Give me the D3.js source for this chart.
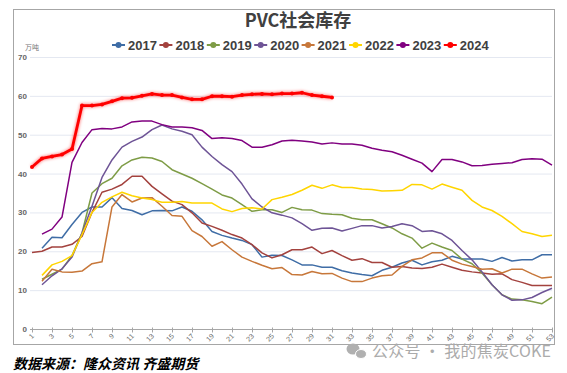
<!DOCTYPE html>
<html><head><meta charset="utf-8">
<script src="https://cdn.jsdelivr.net/npm/d3@7/dist/d3.min.js"></script>
<style>body{margin:0;background:#fff;}svg{display:block;}</style>
</head><body><svg id="c" width="567" height="373"></svg>
<script>
const weeks = d3.range(1, 54);
const years = ["2017","2018","2019","2020","2021","2022","2023","2024"];
const colors = ["#3F6DA6","#A3423E","#7E9C46","#6E5496","#C7773A","#FFD500","#800080","#FF0000"];
const s2017 = [null,20.8,23.6,23.5,26.9,30.0,31.4,31.4,33.8,31.0,30.5,29.4,30.4,30.5,30.4,31.4,30.3,28.1,25.1,24.1,23.4,22.8,21.7,18.5,19.0,18.9,17.8,16.5,16.5,15.9,15.9,15.0,14.4,14.0,13.7,15.1,15.9,17.0,17.7,16.5,17.3,17.7,18.7,18.0,18.0,18.0,17.4,18.4,17.5,17.8,17.8,19.1,19.1];
const s2018 = [19.7,20.0,21.1,21.1,21.8,23.8,30.0,35.2,36.0,37.2,39.3,39.3,36.7,34.8,32.9,32.0,29.9,27.3,26.4,25.4,24.3,23.4,21.7,19.6,18.3,19.1,20.4,20.4,21.1,19.4,20.2,18.9,17.7,18.1,17.1,17.1,15.9,16.1,15.7,15.6,15.9,16.7,15.9,15.1,14.7,14.4,14.1,14.2,12.7,12.0,11.2,11.2,11.2];
const s2019 = [null,12.8,14.1,15.4,18.9,24.7,35.0,37.4,38.8,42.0,43.5,44.2,44.0,43.1,41.0,39.9,38.8,37.4,36.0,34.5,33.7,32.0,30.3,30.7,30.7,30.0,31.3,30.7,30.6,29.7,29.5,29.4,28.5,28.1,28.1,27.1,26.0,24.5,23.4,20.8,22.1,21.1,20.2,18.0,16.8,14.4,11.4,8.8,7.7,7.5,7.1,6.5,8.2];
const s2020 = [null,11.4,13.7,15.5,18.5,24.7,31.6,39.0,43.5,46.8,48.3,49.4,51.3,52.5,51.5,50.9,50.0,46.8,44.4,42.3,40.5,37.3,33.5,31.4,29.9,29.3,28.6,27.1,25.4,25.9,26.0,25.2,25.9,26.6,26.6,26.0,26.4,27.1,26.6,25.1,25.3,24.5,22.8,20.2,17.8,14.7,11.4,8.8,7.4,7.5,8.1,9.4,10.5];
const s2021 = [null,12.3,15.4,14.7,14.6,14.9,16.8,17.3,31.4,34.6,32.7,33.7,33.8,31.6,29.2,29.0,25.3,23.8,21.3,22.5,20.4,18.5,17.4,16.4,15.5,15.8,14.0,13.9,14.8,14.2,14.3,13.1,12.2,12.2,13.1,13.7,13.9,16.1,17.8,18.3,19.6,19.6,17.7,16.7,16.1,15.4,15.5,14.4,15.4,15.4,14.2,13.1,13.4];
const s2022 = [null,13.8,16.5,17.4,18.9,24.3,30.0,32.6,34.0,35.2,34.3,33.7,33.3,32.6,32.6,32.8,32.4,32.4,32.4,30.9,30.2,31.0,31.2,30.9,33.3,33.9,34.6,35.7,37.0,36.2,37.1,36.4,36.4,36.0,35.9,35.5,35.6,35.7,37.2,37.1,36.0,37.3,36.5,35.7,33.1,31.4,30.5,29.0,27.1,25.1,24.5,23.8,24.1];
const s2023 = [null,24.4,25.7,28.8,42.9,48.0,51.3,51.6,51.5,52.0,53.3,53.5,53.5,52.6,52.0,52.0,51.8,51.1,49.0,49.2,49.0,48.5,46.8,46.8,47.4,48.4,48.6,48.4,48.1,47.6,47.9,47.6,47.6,47.3,46.5,46.0,45.6,44.7,43.7,42.7,40.5,43.6,43.6,43.0,42.0,42.1,42.4,42.6,42.8,43.6,43.8,43.7,42.2];
const s2024 = [41.7,43.9,44.4,44.9,46.3,57.5,57.5,57.8,58.6,59.4,59.5,60.0,60.5,60.2,60.2,59.6,59.1,59.1,59.9,59.9,59.8,60.2,60.4,60.5,60.4,60.6,60.6,60.8,60.2,59.9,59.6];
const yTicks = [0,10,20,30,40,50,60,70];
const xLabels = weeks.filter(w => w % 2 === 1);
const title = "PVC社会库存";
const unit = "万吨";
const source = "数据来源：隆众资讯 齐盛期货";
const watermark = "公众号 · 我的焦炭COKE";

const series = [s2017,s2018,s2019,s2020,s2021,s2022,s2023,s2024];
const svg = d3.select("#c");
const defs = svg.append("defs");
const f = defs.append("filter").attr("id","glow").attr("x","-10%").attr("y","-50%").attr("width","120%").attr("height","200%");
f.append("feGaussianBlur").attr("stdDeviation",1.8);

// frame
svg.append("rect").attr("x",13.5).attr("y",9.5).attr("width",541).attr("height",335)
  .attr("fill","none").attr("stroke","#A6A6A6").attr("stroke-width",1);

const x = d3.scaleLinear().domain([1,53]).range([32,552]);
const y = d3.scaleLinear().domain([0,70]).range([329,57]);

// grid
svg.append("g").selectAll("line").data(yTicks.filter(d=>d>0)).join("line")
  .attr("x1",30).attr("x2",552).attr("y1",d=>y(d)+0.5).attr("y2",d=>y(d)+0.5)
  .attr("stroke","#E4E8F1").attr("stroke-width",1);

// y axis labels
const yAxis = d3.axisLeft(y).tickValues(yTicks).tickSize(0).tickPadding(0);
const gy = svg.append("g").attr("transform","translate(27,0)").call(yAxis);
gy.select(".domain").remove();
gy.selectAll("text").attr("font-family","Liberation Sans, Arial, sans-serif").attr("font-size",8).attr("font-weight","bold").attr("fill","#666");

// x axis
const xAxis = d3.axisBottom(x).tickValues(xLabels).tickSize(3);
const gx = svg.append("g").attr("transform","translate(0,329.5)").call(xAxis);
gx.select(".domain").attr("stroke","#A6A6A6").attr("d","M30,0H553");
gx.selectAll(".tick line").attr("stroke","#A6A6A6").attr("y1",-2).attr("y2",3);
gx.selectAll("text").attr("font-family","Liberation Sans, Arial, sans-serif").attr("font-size",7).attr("fill","#666")
  .attr("text-anchor","end").attr("dy",0).attr("y",0)
  .attr("transform","translate(2,7) rotate(-45)");

// lines
const line = d3.line().defined(d => d.v != null).x(d => x(d.w)).y(d => y(d.v));
series.forEach((s, i) => {
  const pts = s.map((v, k) => ({w: k + 1, v}));
  if (i === 7) {
    svg.append("path").datum(pts).attr("d", line).attr("fill","none").attr("stroke","#FF0000")
      .attr("stroke-opacity",0.45).attr("stroke-width",4).attr("filter","url(#glow)");
    svg.append("path").datum(pts).attr("d", line).attr("fill","none").attr("stroke","#FF0000")
      .attr("stroke-width",2.8).attr("stroke-linejoin","round");
    svg.append("g").selectAll("circle").data(pts).join("circle")
      .attr("cx",d=>x(d.w)).attr("cy",d=>y(d.v)).attr("r",2).attr("fill","#FF0000");
  } else {
    svg.append("path").datum(pts).attr("d", line).attr("fill","none").attr("stroke",colors[i])
      .attr("stroke-width",1.5).attr("stroke-linejoin","round");
  }
});

// title
svg.append("text").attr("x",298).attr("y",27).attr("text-anchor","middle")
  .attr("font-family","Noto Sans CJK SC, sans-serif").attr("font-weight","bold").attr("font-size",18)
  .attr("fill","#404040").text(title);

// legend
const lg = svg.append("g");
years.forEach((yr, i) => {
  const lx = 112 + i * 47.4;
  const g = lg.append("g").attr("transform",`translate(${lx},45)`);
  g.append("line").attr("x1",0).attr("x2",13).attr("y1",0).attr("y2",0).attr("stroke",colors[i]).attr("stroke-width",2);
  g.append("circle").attr("cx",6.5).attr("cy",0).attr("r",3).attr("fill",colors[i]);
  g.append("text").attr("x",16).attr("y",4.5).attr("font-family","Liberation Sans Narrow, Liberation Sans, Arial, sans-serif")
    .attr("font-weight","bold").attr("font-size",13).attr("fill","#404040").text(yr);
});

// unit
svg.append("text").attr("x",25).attr("y",50).attr("font-family","Noto Sans CJK SC, sans-serif")
  .attr("font-size",7).attr("fill","#777").text(unit);

// watermark
const wm = svg.append("g");
wm.append("ellipse").attr("cx",353).attr("cy",349).attr("rx",6.5).attr("ry",5.5).attr("fill","#b0b0b0");
wm.append("ellipse").attr("cx",361).attr("cy",354).attr("rx",5.5).attr("ry",4.5).attr("fill","#b0b0b0").attr("stroke","#fff").attr("stroke-width",1);
wm.append("text").attr("x",372).attr("y",357).attr("font-family","Noto Sans CJK SC, sans-serif")
  .attr("font-size",16).attr("fill","#ababab").attr("textLength",179).text(watermark);

// source
svg.append("text").attr("x",13).attr("y",369).attr("font-family","Noto Sans CJK SC, sans-serif")
  .attr("font-weight","bold").attr("font-style","italic").attr("font-size",14).attr("fill","#000").text(source);
</script></body></html>
